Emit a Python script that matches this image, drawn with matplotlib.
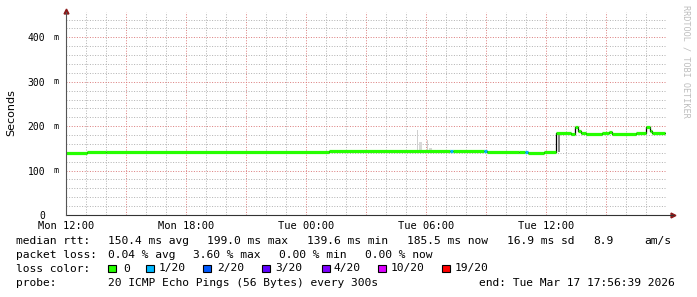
import numpy as np
import matplotlib.pyplot as plt
from matplotlib.patches import Rectangle

# ============================================================
# data: median rtt (ms) per segment, hours since Mon 12:00
# ============================================================
seg_edges = [0.00, 1.05, 2.00, 13.15, 19.20, 19.35, 20.90, 21.05, 22.65, 22.95,
             23.10, 23.90, 24.50, 25.25, 25.45, 25.60, 25.75, 26.00, 26.80, 27.15,
             27.30, 28.50, 29.00, 29.20, 29.30, 29.95]
median_ms = [139.6, 141.2, 142.6, 144.0, 144.0, 144.0, 144.0, 142.6, 141.0, 141.0,
             140.3, 141.5, 185.4, 183.0, 199.0, 190.0, 185.4, 183.0, 185.4, 187.0,
             183.0, 185.4, 199.0, 190.0, 185.5]
loss_idx = [0, 0, 0, 0, 1, 0, 1, 0, 0, 1,
            0, 0, 0, 0, 0, 0, 0, 0, 0, 0,
            0, 0, 0, 0, 0]

# smoke (spread of the single pings)
smoke_h = [17.55, 17.63, 18.03, 18.13, 24.58]
smoke_lo = [144, 144, 144, 144, 141]
smoke_hi = [192, 165, 168, 150, 186]
smoke_w = [0.05, 0.15, 0.05, 0.15, 0.12]
smoke_col = ['#cfcfcf', '#d8d8d8', '#cfcfcf', '#d8d8d8', '#8a8a8a']

loss_labels = ['0', '1/20', '2/20', '3/20', '4/20', '10/20', '19/20']
loss_colors = ['#26ff00', '#00b8ff', '#0059ff', '#5e00ff', '#7e00ff', '#dd00ff', '#ff0000']

x_ticks = [0, 6, 12, 18, 24]
x_labels = ['Mon 12:00', 'Mon 18:00', 'Tue 00:00', 'Tue 06:00', 'Tue 12:00']
y_ticks = [0, 100, 200, 300, 400]
y_labels = ['0', '100', '200', '300', '400']

# ============================================================
W, H = 697, 297
mono = 'DejaVu Sans Mono'
fig = plt.figure(figsize=(W / 100, H / 100), dpi=100)
fig.patch.set_facecolor('white')
ax = fig.add_axes([66 / W, (H - 215) / H, 600 / W, 203 / H])
ax.set_xlim(0, 30)
ax.set_ylim(0, 457)

# grid (dotted, major red every 3 h / 100 m, minor grey)
for h in range(1, 31):
    col = '#dc8080' if h % 3 == 0 else '#b4b4b4'
    ax.axvline(h, color=col, lw=0.72, ls=(0, (1, 1.6)), zorder=0)
for v in range(20, 457, 20):
    col = '#dc8080' if v % 100 == 0 else '#b4b4b4'
    ax.axhline(v, color=col, lw=0.72, ls=(0, (1, 1.6)), zorder=0)

# smoke
ax.bar(smoke_h, np.array(smoke_hi) - np.array(smoke_lo), bottom=smoke_lo,
       width=smoke_w, color=smoke_col, align='edge', lw=0, zorder=1)

# median: thin black step line + loss coloured segments
edges = np.array(seg_edges)
vals = np.array(median_ms)
ax.step(edges, np.append(vals, vals[-1]), where='post', color='black', lw=0.9, zorder=2)
ax.hlines(vals, edges[:-1], edges[1:], colors=[loss_colors[i] for i in loss_idx],
          lw=2.3, zorder=3, capstyle='butt')

# axes
for s in ax.spines.values():
    s.set_visible(False)
ax.plot([0, 1.012], [0, 0], transform=ax.transAxes, color='#333333', lw=0.8, clip_on=False, zorder=4)
ax.plot([0, 0], [0, 1.0], transform=ax.transAxes, color='#555555', lw=0.8, clip_on=False, zorder=4)
ax.plot([1.012], [0], transform=ax.transAxes, marker='>', ms=3.5, color='#8b1a1a', clip_on=False)
ax.plot([0], [1.005], transform=ax.transAxes, marker='^', ms=3.5, color='#8b1a1a', clip_on=False)

ax.set_xticks(x_ticks)
ax.set_xticklabels(x_labels, family=mono, fontsize=7.5)
ax.set_yticks(y_ticks)
ax.set_yticklabels(y_labels, family=mono, fontsize=7)
ax.tick_params(axis='x', length=0, pad=4.2)
ax.tick_params(axis='y', length=0, pad=15)
for v in y_ticks[1:]:
    ax.text(-0.013, v, 'm', transform=ax.get_yaxis_transform(), ha='right', va='center',
            family=mono, fontsize=6)

fig.text(11 / W, 1 - 113 / H, 'Seconds', rotation=90, ha='center', va='center',
         family='DejaVu Sans', fontsize=8)
fig.text(686 / W, 1 - 5 / H, 'RRDTOOL / TOBI OETIKER', rotation=270, ha='center', va='top',
         family=mono, fontsize=6.1, color='#bdbdbd')

# legend text
def put(x, y, s):
    fig.text(x / W, 1 - y / H, s, ha='left', va='center', family=mono, fontsize=8.1)

y1, y2, y3, y4 = 241, 255, 268.5, 282.5
put(16, y1, 'median rtt:')
for x, s in [(107.7, '150.4 ms avg'), (207, '199.0 ms max'), (307, '139.6 ms min'),
             (407, '185.5 ms now'), (506.7, '16.9 ms sd'), (593, '8.9'), (644, 'am/s')]:
    put(x, y1, s)
put(16, y2, 'packet loss:')
for x, s in [(107.7, '0.04 % avg'), (193, '3.60 % max'), (279, '0.00 % min'), (365, '0.00 % now')]:
    put(x, y2, s)
put(16, y3, 'loss color:')
box_x = [108, 146, 203, 262, 322, 378, 442]
txt_x = [123, 159, 217, 275, 334, 391, 455]
for bx, tx, lab, c in zip(box_x, txt_x, loss_labels, loss_colors):
    fig.add_artist(Rectangle((bx / W, 1 - 272 / H), 7.5 / W, 7.5 / H, transform=fig.transFigure,
                             facecolor=c, edgecolor='black', lw=0.8))
    put(tx, y3, lab)
put(16, y4, 'probe:')
put(107.7, y4, '20 ICMP Echo Pings (56 Bytes) every 300s')
put(478.7, y4, 'end: Tue Mar 17 17:56:39 2026')

fig.savefig('out.png', dpi=100, facecolor='white')
